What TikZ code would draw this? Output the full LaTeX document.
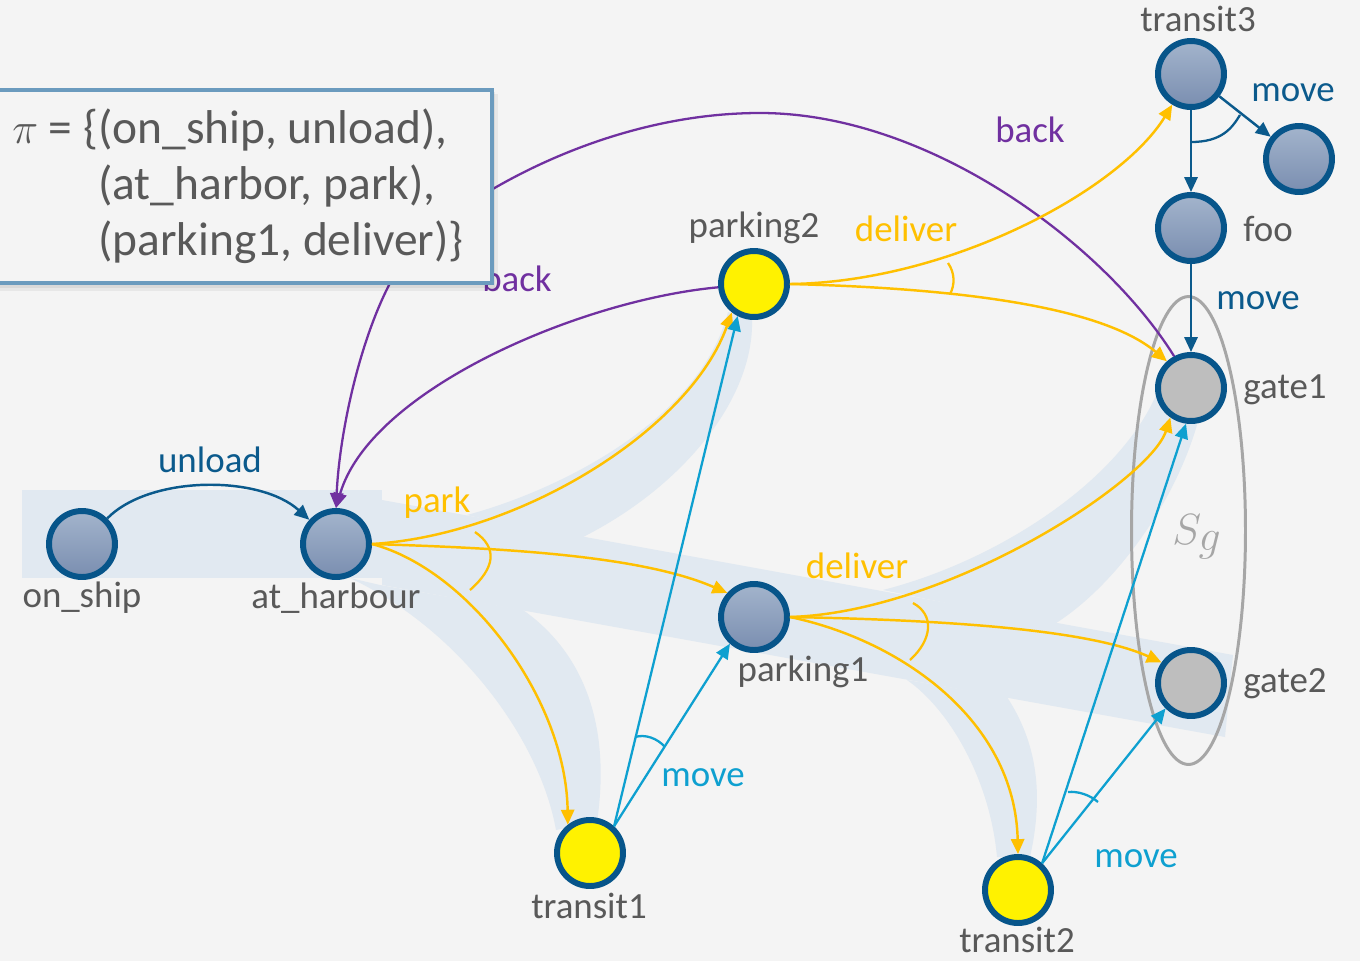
\documentclass[tikz,border=0pt]{standalone}
\usepackage{fontspec}
\setmainfont{Carlito}
\usetikzlibrary{arrows.meta,shapes.geometric}

\definecolor{bg}{HTML}{F4F4F4}
\definecolor{band}{HTML}{E1E9F1}
\definecolor{navy}{HTML}{0B5A8C}
\definecolor{ring}{HTML}{07558A}
\definecolor{amber}{HTML}{FFC000}
\definecolor{violet}{HTML}{7030A0}
\definecolor{sky}{HTML}{0EA0D0}
\definecolor{ink}{HTML}{595959}
\definecolor{setgray}{HTML}{A6A6A6}
\definecolor{frame}{HTML}{6B9BBE}
\definecolor{nodetop}{HTML}{A3B4CC}
\definecolor{nodebot}{HTML}{7A8EB0}
\definecolor{goalfill}{HTML}{BEBEBE}

\tikzset{
  ringnode/.style={circle, draw=ring, line width=3.4pt, minimum size=1.32cm, inner sep=0pt},
  bluestate/.style={ringnode, top color=nodetop, bottom color=nodebot},
  yellowstate/.style={ringnode, fill=yellow},
  goalstate/.style={ringnode, fill=goalfill},
  lbl/.style={text=ink, font=\fontsize{21}{25}\selectfont, inner sep=0pt},
  elbl/.style={font=\fontsize{21}{25}\selectfont, inner sep=0pt},
  tip/.style={-{Triangle[length=8.5pt,width=7.5pt]}},
  navyarrow/.style={draw=navy, line width=1.4pt, tip},
  amberarrow/.style={draw=amber, line width=1.4pt, tip},
  skyarrow/.style={draw=sky, line width=1.3pt, tip},
  violetarrow/.style={draw=violet, line width=1.3pt, tip},
  andmark/.style={line width=1.3pt},
}

\begin{document}
\begin{tikzpicture}[x=0.02cm,y=-0.02cm]
\path[use as bounding box, fill=bg] (0,0) rectangle (1360,961);

% highlighted execution of the policy
\fill[band] (22,490) rectangle (382,578);
\fill[band] (382,500) -- (1233,655) -- (1225,737) -- (382,585) -- cycle;
\fill[band] (467,515) .. controls (560,490) and (700,420) .. (728,312)
  -- (752,318) .. controls (755,400) and (680,490) .. (577,540) -- cycle;
\fill[band] (350,578) .. controls (460,630) and (540,740) .. (556,830)
  -- (597,822) .. controls (612,720) and (580,650) .. (523,610) -- (380,585) -- cycle;
\fill[band] (883,590) .. controls (1000,560) and (1120,480) .. (1157,393)
  -- (1197,425) .. controls (1172,510) and (1110,590) .. (1053,625) -- cycle;
\fill[band] (907,680) .. controls (950,710) and (990,780) .. (997,857)
  -- (1030,857) .. controls (1045,790) and (1035,740) .. (1007,697) -- cycle;

% goal set
\node[ellipse, draw=setgray, line width=1.7pt, minimum width=2.28cm, minimum height=9.36cm, inner sep=0pt] (goalset) at (1188.5,530.5) {};
\node[text=setgray, font=\fontsize{33}{36}\selectfont, inner sep=0pt] (sglabel) at (1197,537) {$S_g$};

% states
\node[bluestate] (onship) at (82,544) {};
\node[bluestate] (harbour) at (336,544) {};
\node[yellowstate] (park2) at (754,284) {};
\node[bluestate] (park1) at (754,617) {};
\node[yellowstate] (tr1) at (590,853) {};
\node[yellowstate] (tr2) at (1018,890) {};
\node[bluestate] (tr3) at (1191,74) {};
\node[bluestate] (succ) at (1299,159) {};
\node[bluestate] (foo) at (1191,228) {};
\node[goalstate] (gate1) at (1191,388) {};
\node[goalstate] (gate2) at (1191,683) {};

% state names
\node[lbl] (n-onship) at (82,598) {on\_ship};
\node[lbl] (n-harbour) at (336,598) {at\_harbour};
\node[lbl] (n-park2) at (754,228) {parking2};
\node[lbl] (n-park1) at (803,672) {parking1};
\node[lbl] (n-tr1) at (589,906) {transit1};
\node[lbl] (n-tr2) at (1017,940) {transit2};
\node[lbl] (n-tr3) at (1198,19) {transit3};
\node[lbl] (n-foo) at (1268,229) {foo};
\node[lbl] (n-gate1) at (1285,390) {gate1};
\node[lbl] (n-gate2) at (1285,684) {gate2};

% unload
\draw[navyarrow] (onship) .. controls (150,475) and (260,475) .. (harbour);
\node[elbl, text=navy] (a-unload) at (210,460) {unload};

% back
\draw[violetarrow] (gate1.118) .. controls (1105,245) and (930,113) .. (760,113)
  .. controls (620,113) and (490,180) .. (420,240)
  .. controls (370,290) and (340,420) .. (harbour.north);
\draw[violetarrow] (park2) .. controls (580,300) and (370,390) .. (harbour.north);
\node[elbl, text=violet] (a-back1) at (1030,130) {back};
\node[elbl, text=violet] (a-back2) at (517,279) {back};

% park
\draw[amberarrow] (harbour.east) .. controls (520,535) and (690,430) .. (park2.232);
\draw[amberarrow] (harbour.east) .. controls (500,548) and (640,555) .. (park1.138);
\draw[amberarrow] (harbour.east) .. controls (470,570) and (566,700) .. (tr1.128);
\draw[amber, andmark] (475,532) .. controls (498,548) and (495,568) .. (470,590);
\node[elbl, text=amber] (a-park) at (437,503) {park};

% deliver from parking2
\draw[amberarrow] (park2.east) .. controls (950,282) and (1120,190) .. (tr3);
\draw[amberarrow] (park2.east) .. controls (950,288) and (1100,305) .. (gate1.132);
\draw[amber, andmark] (948,263) .. controls (955,273) and (955,285) .. (950,294);
\node[elbl, text=amber] (a-deliver2) at (906,229) {deliver};

% deliver from parking1
\draw[amberarrow] (park1.east) .. controls (950,612) and (1150,480) .. (gate1.235);
\draw[amberarrow] (park1.east) .. controls (950,620) and (1090,630) .. (gate2.145);
\draw[amberarrow] (park1.east) .. controls (900,640) and (1015,720) .. (tr2.north);
\draw[amber, andmark] (913,603) .. controls (935,615) and (932,640) .. (910,660);
\node[elbl, text=amber] (a-deliver1) at (857,566) {deliver};

% move from transit1
\draw[skyarrow] (tr1.48) -- (park2.243);
\draw[skyarrow] (tr1.48) -- (park1.228);
\draw[sky, andmark] (635,737) .. controls (645,734) and (657,738) .. (665,747);
\node[elbl, text=sky] (a-move1) at (703,778) {move};

% move from transit2
\draw[skyarrow] (tr2.48) -- (gate1.262);
\draw[skyarrow] (tr2.48) -- (gate2.225);
\draw[sky, andmark] (1068,792) .. controls (1078,791) and (1090,795) .. (1098,802);
\node[elbl, text=sky] (a-move2) at (1136,859) {move};

% move from transit3 and foo
\draw[navyarrow] (tr3) -- (foo);
\draw[navyarrow] (tr3) -- (succ);
\draw[navy, andmark] (1191,142) .. controls (1222,142) and (1232,128) .. (1240,115);
\node[elbl, text=navy] (a-move3) at (1293,93) {move};
\draw[navyarrow] (foo) -- (gate1);
\node[elbl, text=navy] (a-move4) at (1258,301) {move};

% policy box
\fill[black, opacity=0.05] (-10,94) rectangle (498,291);
\fill[black, opacity=0.06] (-10,92) rectangle (495,288);
\fill[black, opacity=0.08] (-10,90) rectangle (492,285);
\node[draw=frame, fill=bg, line width=2.2pt, anchor=north west, minimum width=10cm, minimum height=3.86cm, inner sep=0pt] (policy) at (-10,88) {};
\node[text=ink, font=\fontsize{27}{32}\selectfont, anchor=west, inner sep=0pt] (policytext) at (12,188)
  {\begin{tabular}{@{}r@{}l@{}}$\pi$ = \{&(on\_ship, unload),\\&(at\_harbor, park),\\&(parking1, deliver)\}\end{tabular}};
\end{tikzpicture}
\end{document}
